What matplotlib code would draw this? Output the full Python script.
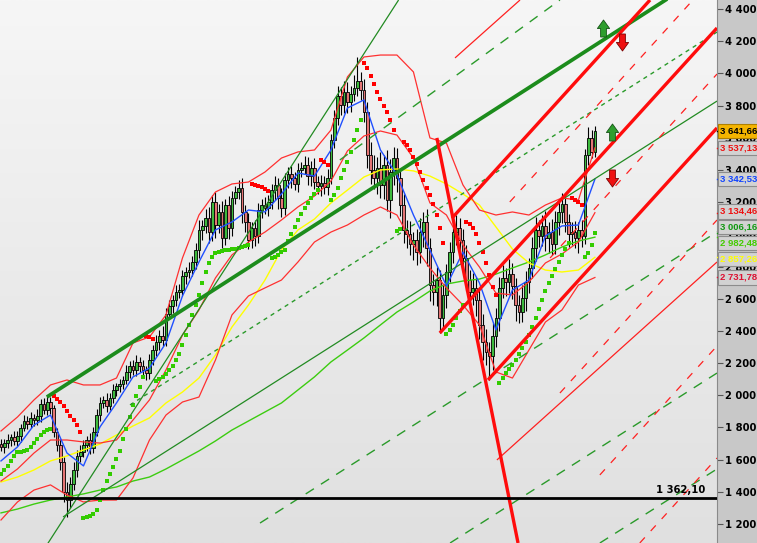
import numpy as np
import matplotlib
matplotlib.use("Agg")
import matplotlib.pyplot as plt
from matplotlib.path import Path
from matplotlib.transforms import blended_transform_factory
from matplotlib.colors import LinearSegmentedColormap

# ---------------- price data (weekly candles) ----------------
first_open = 1700
closes = [1679, 1703, 1722, 1741, 1716, 1747, 1797, 1840, 1821, 1859,
          1846, 1871, 1946, 1908, 1958, 1921, 1772, 1691, 1585, 1399,
          1349, 1449, 1536, 1623, 1648, 1691, 1722, 1672, 1772, 1877,
          1952, 1971, 1933, 1983, 2033, 2058, 2070, 2095, 2145, 2182,
          2157, 2207, 2182, 2157, 2138, 2219, 2281, 2331, 2368, 2343,
          2505, 2555, 2592, 2642, 2654, 2741, 2766, 2778, 2828, 2903,
          3027, 3052, 3101, 3014, 3201, 3058, 3139, 2977, 3182, 3039,
          3226, 3263, 3288, 3139, 3077, 2965, 3039, 2990, 3151, 3182,
          3164, 3201, 3275, 3307, 3226, 3164, 3338, 3375, 3350, 3313,
          3400, 3412, 3431, 3362, 3412, 3325, 3300, 3319, 3294, 3350,
          3586, 3723, 3859, 3804, 3884, 3822, 3872, 3909, 3951, 3897,
          3760, 3493, 3400, 3350, 3412, 3307, 3431, 3213, 3387, 3474,
          3350, 3182, 3027, 3002, 2940, 2965, 2890, 3014, 3077, 2915,
          2685, 2642, 2716, 2480, 2623, 2766, 2890, 3014, 3039, 2965,
          2853, 2716, 2642, 2667, 2592, 2437, 2331, 2269, 2244, 2368,
          2480, 2667, 2729, 2704, 2754, 2679, 2561, 2517, 2604, 2704,
          2791, 2915, 3027, 2990, 3052, 2977, 3014, 2940, 3077, 3139,
          3188, 3077, 3002, 3014, 2977, 3027, 2990, 3493, 3599, 3512,
          3641.66]

up_wick = [30, 25, 40, 20, 35, 30, 25, 40, 30, 35,
           25, 45, 30, 40, 35, 30, 20, 25, 40, 30,
           60, 45, 50, 35, 40, 30, 25, 45, 30, 40,
           35, 25, 40, 30, 35, 20, 30, 25, 40, 30,
           35, 45, 30, 40, 25, 35, 30, 45, 40, 60,
           40, 35, 30, 45, 35, 40, 30, 50, 35, 45,
           60, 40, 55, 70, 45, 60, 50, 65, 40, 55,
           45, 40, 50, 60, 45, 55, 40, 50, 45, 40,
           50, 45, 40, 55, 45, 60, 40, 45, 50, 40,
           45, 40, 55, 50, 45, 60, 40, 50, 45, 55,
           40, 50, 60, 55, 70, 60, 50, 80, 150, 60,
           70, 60, 80, 90, 70, 100, 60, 90, 80, 70,
           60, 50, 70, 60, 80, 50, 70, 90, 60, 80,
           60, 70, 80, 60, 70, 50, 60, 70, 80, 60,
           70, 80, 60, 90, 70, 60, 70, 80, 60, 90,
           60, 70, 80, 60, 90, 70, 50, 60, 80, 70,
           60, 70, 80, 60, 70, 90, 60, 80, 70, 60,
           70, 60, 50, 60, 70, 50, 60, 40, 70, 50,
           30]

down_wick = [25, 35, 30, 40, 25, 30, 35, 20, 30, 25,
             40, 30, 35, 25, 30, 40, 30, 35, 50, 60,
             105, 50, 40, 45, 35, 30, 40, 35, 30, 25,
             40, 30, 35, 25, 30, 40, 35, 30, 25, 35,
             30, 40, 35, 30, 45, 35, 30, 40, 50, 35,
             40, 30, 45, 35, 40, 35, 50, 40, 35, 45,
             50, 60, 45, 70, 55, 80, 50, 60, 45, 70,
             50, 40, 45, 70, 60, 55, 50, 60, 45, 50,
             40, 50, 45, 60, 70, 55, 45, 50, 60, 40,
             50, 45, 40, 55, 60, 45, 50, 60, 45, 50,
             40, 50, 45, 60, 50, 70, 60, 45, 50, 60,
             60, 80, 90, 70, 100, 80, 90, 70, 110, 80,
             90, 70, 80, 90, 70, 100, 80, 70, 90, 110,
             100, 80, 90, 93, 70, 80, 60, 70, 80, 90,
             80, 70, 90, 80, 100, 90, 110, 80, 149, 90,
             70, 80, 60, 90, 70, 80, 100, 70, 60, 80,
             70, 60, 80, 70, 60, 80, 90, 70, 60, 80,
             70, 60, 80, 70, 60, 90, 70, 50, 60, 40,
             30]

# parabolic SAR, one dot per candle
sar = [1511, 1536, 1561, 1592, 1623, 1648, 1648, 1654, 1660, 1679,
       1703, 1728, 1753, 1772, 1784, 1790,
       1995, 1977, 1958, 1933, 1902, 1871, 1846, 1815, 1772,
       1237, 1244, 1250, 1262, 1287, 1349, 1411, 1467, 1511, 1554,
       1604, 1654, 1728, 1790, 1865, 1940, 1995, 2051, 2114,
       2368, 2362, 2350,
       2089, 2101, 2114, 2132, 2157, 2182, 2219, 2256, 2312, 2374,
       2437, 2499, 2561, 2623, 2698, 2766, 2822, 2859, 2884, 2890,
       2896, 2903, 2903, 2909, 2909, 2915, 2921, 2927, 2934,
       3313, 3307, 3300, 3294, 3282, 3269,
       2853, 2859, 2872, 2890, 2903, 2959, 3002, 3046, 3089, 3126,
       3164, 3195, 3226, 3251, 3275,
       3462, 3449, 3431,
       3213, 3244, 3288, 3350, 3400, 3449, 3512, 3586, 3648, 3710,
       4065, 4033, 3984, 3934, 3884, 3841, 3797, 3760, 3710, 3648,
       3021, 3033,
       3574, 3555, 3524, 3480, 3437, 3387, 3338, 3288, 3244, 3188,
       3120, 3039, 2946,
       2381, 2406, 2437, 2480, 2524, 2561,
       3077, 3064, 3039, 3002, 2946, 2890, 2822, 2747, 2673, 2620,
       2076, 2107, 2138, 2163, 2188, 2219, 2256, 2294, 2331, 2374,
       2424, 2480, 2536, 2592, 2648, 2698, 2741, 2785, 2828, 2872,
       2909, 2946,
       3226, 3213, 3201, 3182,
       2859, 2884, 2934, 3006.16]

# indicator curves, read every 5 candles
ind_idx = list(range(0, 181, 5))
bb_upper = [1778, 1865, 1971, 2064, 2095, 2064, 2064, 2107, 2325, 2362,
            2499, 2853, 3120, 3263, 3313, 3325, 3387, 3474, 3512, 3524,
            3648, 3978, 4102, 4114, 4114, 4009, 3599, 3567, 3307, 3151,
            3120, 3139, 3120, 3182, 3226, 3213, 3537.13]
bb_mid = [1467, 1542, 1641, 1722, 1722, 1710, 1703, 1722, 1846, 1971,
          2157, 2374, 2530, 2729, 2872, 2952, 3014, 3089, 3170, 3238,
          3331, 3518, 3611, 3642, 3617, 3474, 3195, 3120, 2934, 2797,
          2635, 2623, 2704, 2822, 2878, 2952, 3134.46]
bb_lower = [1225, 1337, 1411, 1443, 1380, 1337, 1349, 1349, 1486, 1722,
            1877, 1958, 1989, 2219, 2499, 2617, 2667, 2716, 2828, 2952,
            3014, 3058, 3120, 3170, 3120, 2934, 2791, 2667, 2561, 2437,
            2145, 2107, 2281, 2455, 2530, 2685, 2731.78]
ma_blue = [1592, 1679, 1815, 1877, 1641, 1561, 1803, 1952, 2114, 2169,
           2325, 2617, 2828, 3027, 3077, 3151, 3139, 3251, 3381, 3362,
           3524, 3785, 3835, 3524, 3369, 3120, 2903, 2679, 2890, 2698,
           2406, 2654, 2716, 2990, 3052, 3058, 3342.53]
ma_yellow = [1461, 1492, 1536, 1592, 1623, 1660, 1697, 1753, 1809, 1859,
             1952, 2020, 2107, 2250, 2424, 2561, 2716, 2903, 3027, 3095,
             3195, 3275, 3356, 3400, 3406, 3394, 3362, 3313, 3251, 3182,
             3046, 2909, 2822, 2778, 2766, 2778, 2857.26]
ma_lime = [1269, 1293, 1324, 1349, 1368, 1387, 1411, 1430, 1467, 1492,
           1542, 1598, 1654, 1716, 1784, 1840, 1896, 1952, 2033, 2114,
           2207, 2281, 2356, 2437, 2517, 2580, 2648, 2691, 2710, 2722,
           2753, 2791, 2828, 2872, 2921, 2958, 2982.48]

# drawn trend lines: (start index, start price, end index, end price)
green_thick = [(13.9, 1989, 217.0, 4661)]
green_thin = [(13.9, 1070, 120.5, 4456), (18.8, 1244, 217.0, 3828)]
green_dash_short = [(39.1, 1940, 217.0, 4257)]
green_dash_long = [(102.7, 3462, 169.4, 4456), (78.5, 1206, 217.0, 3015),
                   (136.1, 1082, 217.0, 2138), (181.5, 1082, 217.0, 1542)]
red_thick = [(132.1, 3599, 156.7, 1082), (136.7, 3101, 196.7, 4456),
             (133.0, 2387, 217.0, 4282), (147.6, 2095, 217.0, 3661)]
red_thin = [(150.3, 1598, 217.0, 2828), (137.6, 4096, 157.3, 4456)]
red_dash = [(154.2, 3201, 209.7, 4456), (166.4, 2853, 217.0, 3996),
            (169.4, 2014, 217.0, 3089), (181.5, 1505, 217.0, 2306),
            (193.6, 1082, 217.0, 1610)]
support = 1362.10
arrows_up = [(182.4, 4282), (185.2, 3636)]
arrows_down = [(188.2, 4195), (185.2, 3350)]

y_ticks = list(range(1200, 4401, 200))

assert len(closes) == len(up_wick) == len(down_wick) == len(sar) == 181

# ---------------- figure ----------------
W, H = 757, 543
fig = plt.figure(figsize=(W / 100, H / 100), dpi=100, facecolor='#c8c8c8')
ax = fig.add_axes([0, 0, 717 / W, 1])
x0, x1, y0, y1 = -0.3, 217.0, 1082, 4456

cmap = LinearSegmentedColormap.from_list('bg', ['#f6f6f6', '#e0e0e0'])
ax.imshow(np.linspace(0, 1, 256).reshape(-1, 1), cmap=cmap, aspect='auto',
          extent=[x0, x1, y0, y1], origin='upper', zorder=0)

n = len(closes)
idx = np.arange(n)
c = np.array(closes, dtype=float)
o = np.r_[first_open, c[:-1]]
hi = np.maximum(o, c) + np.array(up_wick)
lo = np.minimum(o, c) - np.array(down_wick)
up = c >= o

ax.vlines(idx, lo, hi, color='black', lw=0.8, zorder=2)
ax.bar(idx[up], (c - o)[up], bottom=o[up], width=0.82, color='#3dba3d',
       edgecolor='black', lw=0.6, zorder=2.1)
ax.bar(idx[~up], (o - c)[~up], bottom=c[~up], width=0.82, color='#e47575',
       edgecolor='black', lw=0.6, zorder=2.1)

# indicators
ax.plot(ind_idx, ma_lime, color='#3ccc10', lw=1.0, zorder=3)
ax.plot(ind_idx, ma_yellow, color='#ffff00', lw=1.0, zorder=3)
for band in (bb_upper, bb_mid, bb_lower):
    ax.plot(ind_idx, band, color='#ff3030', lw=0.9, zorder=3)
ax.plot(ind_idx, ma_blue, color='#2050ff', lw=1.0, zorder=3.1)

s = np.array(sar, dtype=float)
above = s > c
ax.scatter(idx[above], s[above], marker='s', s=9, color='#ff0000', lw=0, zorder=4)
ax.scatter(idx[~above], s[~above], marker='s', s=9, color='#33cc00', lw=0, zorder=4)

# trend lines
def draw(lines, **kw):
    for a, pa, b, pb in lines:
        ax.plot([a, b], [pa, pb], solid_capstyle='butt', **kw)

draw(green_dash_long, color='#2a9a2a', lw=1.0, dashes=(7, 6), zorder=4.5)
draw(green_dash_short, color='#2a9a2a', lw=1.0, dashes=(3, 3), zorder=4.5)
draw(green_thin, color='#228b22', lw=0.9, zorder=4.5)
draw(green_thick, color='#1c8c1c', lw=2.7, zorder=5)
draw(red_dash, color='#ff2020', lw=0.9, dashes=(6, 7), zorder=4.6)
draw(red_thin, color='#ff2020', lw=0.9, zorder=4.6)
draw(red_thick, color='#ff0c0c', lw=2.4, zorder=5.1)

ax.axhline(support, color='black', lw=2.0, zorder=6)
ax.text(705 / 717, support + 18, '1 362,10', ha='right', va='bottom',
        fontsize=7.2, fontweight='bold', color='black', zorder=7,
        transform=blended_transform_factory(ax.transAxes, ax.transData))

# arrows
arrow = Path([(-0.17, -0.5), (0.17, -0.5), (0.17, 0.0), (0.36, 0.0), (0.0, 0.5),
              (-0.36, 0.0), (-0.17, 0.0), (-0.17, -0.5)], closed=True)
arrow_dn = Path(arrow.vertices * [1, -1], closed=True)
for px, py in arrows_up:
    ax.scatter(px, py, marker=arrow, s=150, color='#2e9e2e', edgecolor='#155215',
               lw=0.6, zorder=8)
for px, py in arrows_down:
    ax.scatter(px, py, marker=arrow_dn, s=150, color='#ee1010', edgecolor='#7a0000',
               lw=0.6, zorder=8)

ax.set_xlim(x0, x1)
ax.set_ylim(y0, y1)
ax.set_xticks([])
for sp in ('top', 'left', 'bottom'):
    ax.spines[sp].set_visible(False)
ax.spines['right'].set_color('#8a8a8a')
ax.yaxis.tick_right()
ax.set_yticks(y_ticks)
ax.set_yticklabels([f"{v:,}".replace(',', ' ') for v in y_ticks],
                   fontweight='bold')
ax.tick_params(axis='y', direction='out', length=4, width=0.8, color='#555555',
               labelcolor='black', labelsize=7.2, pad=2)

# last-value labels on the price scale
labels = [(closes[-1], 'black', '#f4b400'),
          (bb_upper[-1], '#ee1111', '#d2d2d2'),
          (ma_blue[-1], '#1144ff', '#d2d2d2'),
          (bb_mid[-1], '#ee1111', '#d2d2d2'),
          (sar[-1], '#119911', '#d2d2d2'),
          (ma_lime[-1], '#44cc00', '#d2d2d2'),
          (ma_yellow[-1], '#ffff00', '#d2d2d2'),
          (bb_lower[-1], '#dd1133', '#d2d2d2')]
pos = [v for v, _, _ in labels]
gap = 98
for _ in range(60):
    for k in range(len(pos) - 1):
        d = pos[k] - pos[k + 1]
        if d < gap:
            pos[k] += (gap - d) / 2
            pos[k + 1] -= (gap - d) / 2

tr = blended_transform_factory(ax.transAxes, ax.transData)
for (v, col, face), p in zip(labels, pos):
    txt = f"{v:,.2f}".replace(',', ' ').replace('.', ',')
    ax.text(1.0045, p, txt, transform=tr, ha='left', va='center', fontsize=6.8,
            fontweight='bold', color=col, clip_on=False, zorder=10,
            family=['Liberation Sans', 'DejaVu Sans'],
            bbox=dict(boxstyle='square,pad=0.28', fc=face,
                      ec='#b08000' if face == '#f4b400' else '#8c8c8c', lw=0.8))
    ax.plot([1.0, 1.005], [v, v], transform=tr, color=col, lw=1.0,
            clip_on=False, zorder=9)

fig.savefig('out.png', dpi=100)
